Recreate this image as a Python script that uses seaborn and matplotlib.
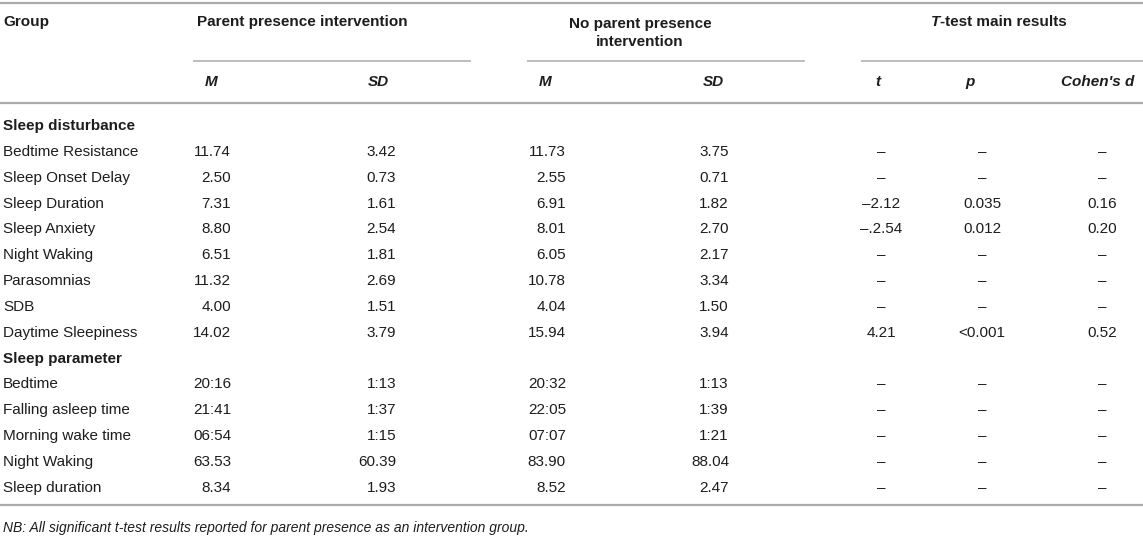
import matplotlib
matplotlib.use("Agg")
import matplotlib.pyplot as plt
import seaborn as sns
import pandas as pd

# ---------------------------------------------------------------------------
# table contents
# ---------------------------------------------------------------------------
group_titles = ["Sleep disturbance", "Sleep parameter"]
disturbance_items = ["Bedtime Resistance", "Sleep Onset Delay", "Sleep Duration",
                     "Sleep Anxiety", "Night Waking", "Parasomnias", "SDB",
                     "Daytime Sleepiness"]
parameter_items = ["Bedtime", "Falling asleep time", "Morning wake time",
                   "Night Waking", "Sleep duration"]

pp_m = ["11.74", "2.50", "7.31", "8.80", "6.51", "11.32", "4.00", "14.02",
        "20:16", "21:41", "06:54", "63.53", "8.34"]
pp_sd = ["3.42", "0.73", "1.61", "2.54", "1.81", "2.69", "1.51", "3.79",
         "1:13", "1:37", "1:15", "60.39", "1.93"]
npp_m = ["11.73", "2.55", "6.91", "8.01", "6.05", "10.78", "4.04", "15.94",
         "20:32", "22:05", "07:07", "83.90", "8.52"]
npp_sd = ["3.75", "0.71", "1.82", "2.70", "2.17", "3.34", "1.50", "3.94",
          "1:13", "1:39", "1:21", "88.04", "2.47"]
t_vals = ["–", "–", "–2.12", "–.2.54", "–", "–", "–", "4.21",
          "–", "–", "–", "–", "–"]
p_vals = ["–", "–", "0.035", "0.012", "–", "–", "–", "<0.001",
          "–", "–", "–", "–", "–"]
d_vals = ["–", "–", "0.16", "0.20", "–", "–", "–", "0.52",
          "–", "–", "–", "–", "–"]

note = "NB: All significant t-test results reported for parent presence as an intervention group."

items = disturbance_items + parameter_items
table = pd.DataFrame({"item": items, "pp_m": pp_m, "pp_sd": pp_sd,
                      "npp_m": npp_m, "npp_sd": npp_sd,
                      "t": t_vals, "p": p_vals, "d": d_vals})

# ---------------------------------------------------------------------------
# style
# ---------------------------------------------------------------------------
sns.set_theme(style="white")
plt.rcParams['font.family'] = ['Liberation Sans', 'DejaVu Sans']

TXT = "#1f1c1d"
RULE = "#ababab"
FS = 11

# column layout (x in pixels, alignment)
cols = {"pp_m": (231, "right"), "pp_sd": (396, "right"),
        "npp_m": (566, "right"), "npp_sd": (729, "right"),
        "t": (881, "center"), "p": (982, "center"), "d": (1102, "center")}
sub_heads = [("M", 211), ("SD", 378), ("M", 545), ("SD", 713),
             ("t", 878), ("p", 970), ("Cohen's d", 1098)]

LEFT = 3
ROW0 = 126
ROW_H = 25.85

fig = plt.figure(figsize=(11.43, 5.42), dpi=100)
ax = fig.add_axes([0, 0, 1, 1])
ax.set_xlim(0, 1143)
ax.set_ylim(542, 0)
ax.axis("off")

# rules
ax.hlines([3, 103, 505], 0, 1143, color=RULE, lw=1.6)
ax.hlines([61, 61, 61], [193, 527, 861], [471, 805, 1143], color=RULE, lw=1.1)

# header
ax.text(LEFT, 22, "Group", fontsize=FS, fontweight="bold", color=TXT, va="center")
ax.text(197, 22, "Parent presence intervention", fontsize=FS, fontweight="bold",
        color=TXT, va="center")
ax.text(640, 33, "No parent presence\nintervention", fontsize=FS, fontweight="bold",
        color=TXT, va="center", ha="center", multialignment="center",
        linespacing=1.45)
tt = ax.text(931, 22, "T", fontsize=FS, fontweight="bold", style="italic",
             color=TXT, va="center", ha="left")
ax.annotate("-test main results", xy=(1, 0), xycoords=tt, fontsize=FS,
            fontweight="bold", color=TXT, va="bottom", ha="left")

for name, x in sub_heads:
    ax.text(x, 82, name, fontsize=FS, fontweight="bold", style="italic",
            color=TXT, va="center", ha="center")

# body
k = 0
start = 0
for title, block in zip(group_titles, [disturbance_items, parameter_items]):
    ax.text(LEFT, ROW0 + k * ROW_H, title, fontsize=FS, fontweight="bold",
            color=TXT, va="center")
    k += 1
    rows = table.iloc[start:start + len(block)]
    for _, r in rows.iterrows():
        y = ROW0 + k * ROW_H
        ax.text(LEFT, y, r["item"], fontsize=FS, color=TXT, va="center")
        for c, (x, ha) in cols.items():
            ax.text(x, y, r[c], fontsize=FS, color=TXT, va="center", ha=ha)
        k += 1
    start += len(block)

ax.text(LEFT, 528, note, fontsize=10, style="italic", color=TXT, va="center")

fig.savefig("out.png", dpi=100)
